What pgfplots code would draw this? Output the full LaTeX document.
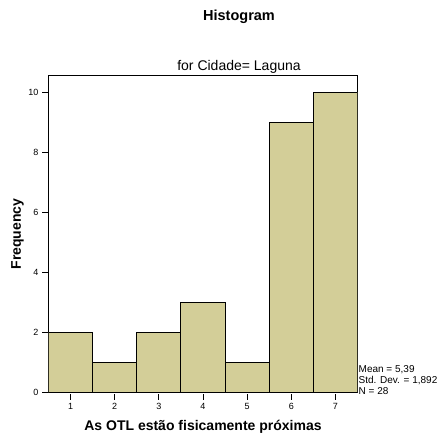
\documentclass[border=0pt]{standalone}
\usepackage{fontspec}
\setmainfont{Liberation Sans}
\usepackage{pgfplots}
\pgfplotsset{compat=1.18}
\definecolor{barfill}{RGB}{211,206,152}
\begin{document}
\begin{tikzpicture}[x=1pt,y=1pt]
\useasboundingbox (0,0) rectangle (437,436);
\begin{axis}[
  at={(48.5pt,43.7pt)}, anchor=south west,
  scale only axis, width=309pt, height=316.6pt,
  xmin=0.5, xmax=7.5, ymin=0, ymax=10.55,
  xtick={1,2,3,4,5,6,7}, ytick={0,2,4,6,8,10},
  tick align=outside, tick pos=left,
  major tick length=6pt,
  tick style={black, line width=0.9pt},
  xtick style={yshift=-1.5pt},
  axis line style={black, line width=0.9pt},
  /pgf/number format/assume math mode=true,
  tick label style={font=\fontsize{9}{11}\selectfont},
  xticklabel style={yshift=-1.5pt},
  yticklabel style={xshift=-0.5pt},
]
\addplot[ybar, bar width=1, fill=barfill, draw=black, line width=0.9pt] coordinates {
  (1,2) (2,1) (3,2) (4,3) (5,1) (6,9) (7,10)
};
\end{axis}
\node[font=\bfseries\fontsize{14.5}{16}\selectfont] at (239,419) {Histogram};
\node[font=\fontsize{14}{16}\selectfont] at (239,369) {for Cidade= Laguna};
\node[font=\bfseries\fontsize{14}{16}\selectfont, rotate=90] at (17.5,202) {Frequency};
\node[font=\bfseries\fontsize{14}{16}\selectfont] at (203,9) {As OTL estão fisicamente próximas};
\node[font=\fontsize{10}{12}\selectfont, anchor=west, inner sep=0pt] at (358.5,66) {Mean = 5,39};
\node[font=\fontsize{10}{12}\selectfont, anchor=west, inner sep=0pt] at (358.5,55.5) {Std. Dev. = 1,892};
\node[font=\fontsize{10}{12}\selectfont, anchor=west, inner sep=0pt] at (358.5,45) {N = 28};
\end{tikzpicture}
\end{document}
